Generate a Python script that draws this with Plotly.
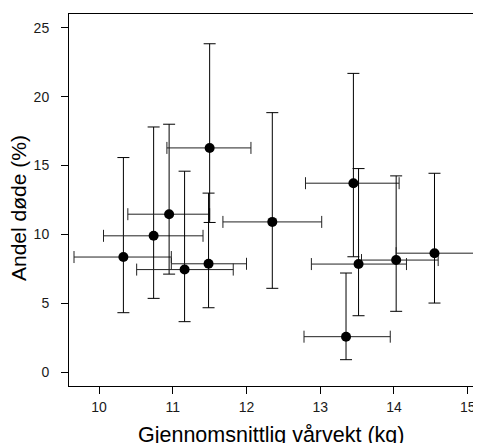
import plotly.graph_objects as go

# Data
weight = [10.33, 10.74, 10.95, 11.16, 11.50, 11.485, 12.35, 13.45, 13.52, 13.35, 14.03, 14.55]
mortality = [8.36, 9.90, 11.47, 7.45, 16.28, 7.87, 10.91, 13.72, 7.85, 2.58, 8.14, 8.64]
weight_low = [9.66, 10.06, 10.39, 10.51, 10.92, 10.98, 11.68, 12.80, 12.88, 12.78, 13.56, 14.03]
weight_high = [10.98, 11.41, 11.50, 11.82, 12.06, 12.00, 13.02, 14.07, 14.17, 13.95, 14.60, 15.10]
mort_low = [4.32, 5.36, 7.12, 3.67, 10.87, 4.68, 6.09, 8.38, 4.10, 0.91, 4.42, 5.02]
mort_high = [15.58, 17.80, 18.00, 14.59, 23.84, 13.00, 18.84, 21.69, 14.78, 7.20, 14.25, 14.44]

x_ticks = [10, 11, 12, 13, 14, 15]
y_ticks = [0, 5, 10, 15, 20, 25]
x_title = "Gjennomsnittlig vårvekt (kg)"
y_title = "Andel døde (%)"

FONT = "Liberation Sans, Arial, sans-serif"

fig = go.Figure()
fig.add_trace(go.Scatter(
    x=weight, y=mortality, mode="markers",
    marker=dict(color="black", size=10, line=dict(width=0)),
    error_x=dict(type="data", symmetric=False,
                 array=[h - v for h, v in zip(weight_high, weight)],
                 arrayminus=[v - l for v, l in zip(weight, weight_low)],
                 color="#222222", thickness=1, width=6),
    error_y=dict(type="data", symmetric=False,
                 array=[h - v for h, v in zip(mort_high, mortality)],
                 arrayminus=[v - l for v, l in zip(mortality, mort_low)],
                 color="black", thickness=1, width=6),
    showlegend=False,
))

# page has an 8px body margin; figure coordinates are offset by it
W, H = 481, 443
ML, MR, MT, MB = 61, 6, 6, 65

fig.update_layout(
    width=W, height=H,
    margin=dict(l=ML, r=MR, t=MT, b=MB, pad=0),
    paper_bgcolor="white", plot_bgcolor="white",
    font=dict(family=FONT, color="#1a1a1a", size=14),
    xaxis=dict(range=[9.592, 15.208], tickvals=x_ticks, ticks="outside", ticklen=7,
               tickcolor="black", tickwidth=1, showline=True, linecolor="black",
               linewidth=1, mirror=True, showgrid=False, zeroline=False,
               tickfont=dict(size=14, family=FONT, color="#1a1a1a"),
               ticklabelstandoff=1),
    yaxis=dict(range=[-1, 26], tickvals=y_ticks, ticks="outside", ticklen=7,
               tickcolor="black", tickwidth=1, showline=True, linecolor="black",
               linewidth=1, mirror=False, showgrid=False, zeroline=False,
               tickfont=dict(size=14, family=FONT, color="#1a1a1a"),
               ticklabelstandoff=9),
    annotations=[
        dict(text=x_title, xref="paper", yref="paper", x=(263 - ML) / (W - ML - MR),
             y=0, xanchor="center", yanchor="top", yshift=-35, showarrow=False,
             font=dict(size=21.5, family=FONT, color="black")),
        dict(text=y_title, xref="paper", yref="paper", x=(10 - ML) / (W - ML - MR),
             y=0.5, xanchor="center", yanchor="middle", yshift=-8, textangle=-90,
             showarrow=False, font=dict(size=21, family=FONT, color="black")),
    ],
)

fig.write_html("out.html")
